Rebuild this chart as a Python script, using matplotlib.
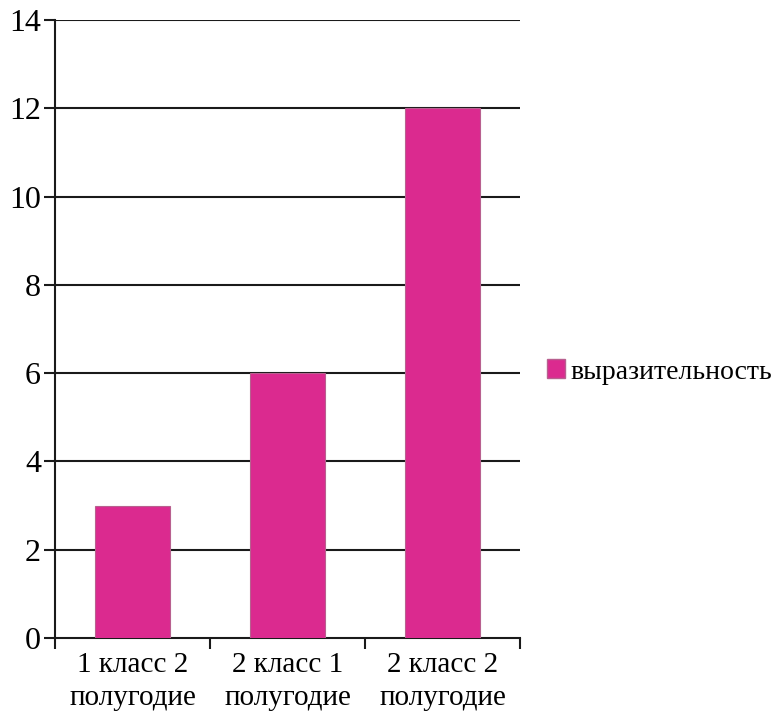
import matplotlib.pyplot as plt
from matplotlib.patches import Patch

categories = ['1 класс 2\nполугодие', '2 класс 1\nполугодие', '2 класс 2\nполугодие']
values = [3, 6, 12]
series_name = 'выразительность'
y_ticks = [0, 2, 4, 6, 8, 10, 12, 14]

bar_color = '#DB2A8F'

plt.rcParams['font.family'] = 'serif'
plt.rcParams['font.serif'] = ['Liberation Serif', 'DejaVu Serif']

fig = plt.figure(figsize=(7.84, 7.17), dpi=100)
ax = fig.add_axes([55 / 784, 79 / 717, 465 / 784, 618 / 717])

x = list(range(len(categories)))
ax.bar(x, values, width=0.49, color=bar_color, edgecolor='#B8608F',
       linewidth=0.8, zorder=3)

ax.set_xlim(-0.5, len(categories) - 0.5)
ax.set_ylim(0, 14)
ax.set_yticks(y_ticks)
ax.set_yticklabels([str(t) for t in y_ticks])

# grid lines at each y tick
for t in y_ticks[1:]:
    ax.axhline(t, color='#1a1a1a', linewidth=1.5, zorder=1)

# category boundaries carry the x ticks, labels sit in the middle
ax.set_xticks([i - 0.5 for i in range(len(categories) + 1)])
ax.set_xticklabels([])
ax.set_xticks(x, minor=True)
ax.set_xticklabels(categories, minor=True, fontsize=21, linespacing=1.35)
ax.tick_params(axis='x', which='minor', length=0, pad=10)
ax.tick_params(axis='x', which='major', length=8, width=1.5, color='#1a1a1a')
ax.tick_params(axis='y', length=8, width=1.5, color='#1a1a1a', labelsize=23, pad=2)

for side in ['top', 'right']:
    ax.spines[side].set_visible(False)
for side in ['left', 'bottom']:
    ax.spines[side].set_linewidth(1.5)
    ax.spines[side].set_color('#1a1a1a')

handle = Patch(facecolor=bar_color, edgecolor='#B8608F', label=series_name)
fig.legend(handles=[handle], loc='center left', bbox_to_anchor=(547 / 784, 1 - 372 / 717),
           frameon=False, fontsize=20, handlelength=0.65, handleheight=0.65,
           handletextpad=0.2, borderpad=0, borderaxespad=0)

fig.savefig('out.png', dpi=100, facecolor='white')
